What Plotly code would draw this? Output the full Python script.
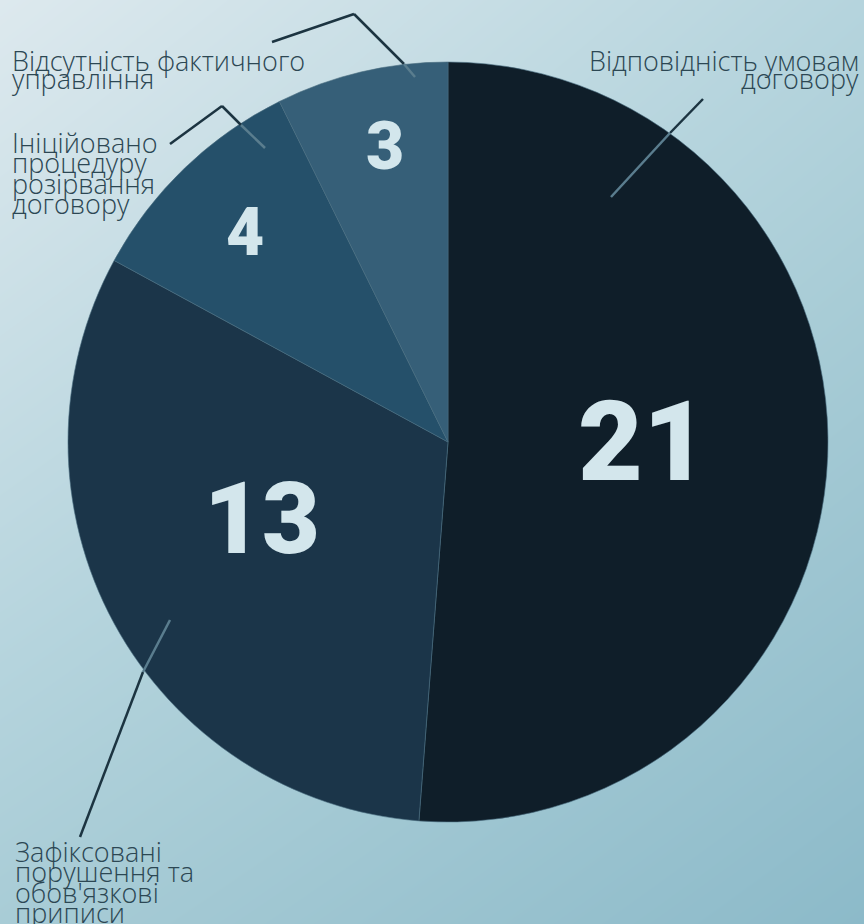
import plotly.graph_objects as go

# ---------------- data ----------------
categories = [
    "Відповідність умовам договору",
    "Зафіксовані порушення та обов'язкові приписи",
    "Ініційовано процедуру розірвання договору",
    "Відсутність фактичного управління",
]
values = [21, 13, 4, 3]
slice_colors = ["#0f1e29", "#1b3549", "#25506a", "#365f78"]

# label lines (as shown on the chart)
label_lines = [
    ["Відповідність умовам", "договору"],
    ["Зафіксовані", "порушення та", "обов'язкові", "приписи"],
    ["Ініційовано", "процедуру", "розірвання", "договору"],
    ["Відсутність фактичного", "управління"],
]

W, H = 864, 924


def px(x):
    return x / W


def py(y):
    return 1 - y / H


fig = go.Figure()

# background gradient (decorative)
fig.add_trace(go.Heatmap(
    z=[[0.62, 1.0], [0.0, 0.45]],
    x=[0, 1], y=[0, 1],
    zsmooth="best", showscale=False, hoverinfo="skip",
    colorscale=[[0, "#dde9ee"], [0.45, "#b5d4dd"], [0.62, "#a8ccd6"], [1, "#8cbac9"]],
    xaxis="x", yaxis="y",
))

cx, cy, R = 448, 442, 380
fig.add_trace(go.Pie(
    values=values, labels=categories, sort=False, direction="clockwise",
    rotation=0, textinfo="none", hoverinfo="label+value", showlegend=False,
    marker=dict(colors=slice_colors, line=dict(color="#4a6d80", width=0.6)),
    domain=dict(x=[px(cx - R), px(cx + R)], y=[py(cy + R), py(cy - R)]),
))

# number labels
num_pos = [(643, 441, 112), (262, 518, 100), (245, 233, 66), (385, 147, 66)]
annotations = []
for v, (x, y, s) in zip(values, num_pos):
    annotations.append(dict(
        x=px(x), y=py(y), xref="paper", yref="paper", text=str(v), showarrow=False,
        xanchor="center", yanchor="middle",
        font=dict(family="Roboto, Inter, sans-serif", size=s, color="#d3e6ec", weight=900),
    ))

# category text lines: (x, first baseline, spacing, anchor)
text_pos = [
    (861, 69, 18, "right"),
    (13, 860, 20.5, "left"),
    (10, 151, 20.5, "left"),
    (10, 69, 18, "left"),
]
fs = 27
for lines, (x, y0, dy, anc) in zip(label_lines, text_pos):
    for i, ln in enumerate(lines):
        annotations.append(dict(
            x=px(x), y=py(y0 + i * dy - 0.33 * fs), xref="paper", yref="paper",
            text=ln, showarrow=False, xanchor=anc, yanchor="middle",
            font=dict(family="Open Sans, Noto Sans, sans-serif", size=fs,
                      color="#2c4753", weight=300),
        ))

# leader lines (decorative)
dark, light = "#1c3441", "#5a7d8e"
segments = [
    ((703, 99), (670, 133), dark), ((670, 133), (611, 197), light),
    ((80, 837), (143, 672), dark), ((143, 672), (170, 620), light),
    ((170, 144), (222, 106), dark), ((222, 106), (241, 125), dark), ((241, 125), (265, 148), light),
    ((272, 42), (354, 14), dark), ((354, 14), (404, 64), dark), ((404, 64), (415, 77), light),
]
shapes = []
for (x0, y0), (x1, y1), c in segments:
    shapes.append(dict(type="line", xref="paper", yref="paper",
                       x0=px(x0), y0=py(y0), x1=px(x1), y1=py(y1),
                       line=dict(color=c, width=2.5), layer="above"))

fig.update_layout(
    width=W, height=H, margin=dict(l=0, r=0, t=0, b=0),
    paper_bgcolor="#b5d4dd", plot_bgcolor="rgba(0,0,0,0)",
    xaxis=dict(domain=[0, 1], range=[0, 1], visible=False, fixedrange=True),
    yaxis=dict(domain=[0, 1], range=[0, 1], visible=False, fixedrange=True),
    annotations=annotations, shapes=shapes, showlegend=False,
)

fig.write_html("out.html", config={"displayModeBar": False},
               post_script="document.body.style.margin='0';document.body.style.overflow='hidden';")
